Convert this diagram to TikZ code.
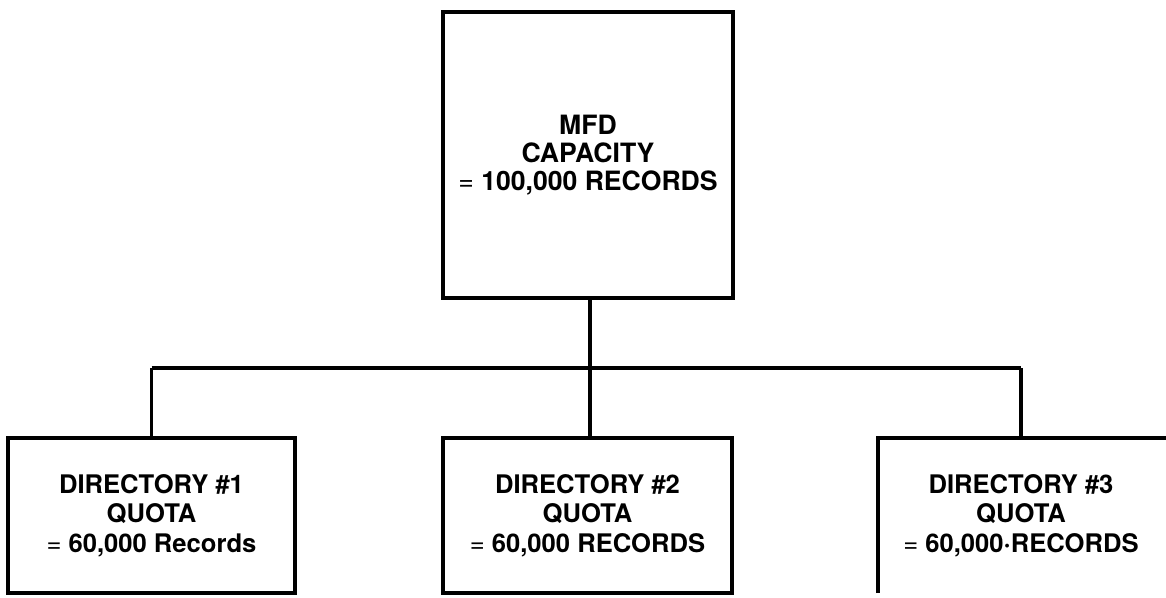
\documentclass[tikz,border=0pt]{standalone}
\usepackage{fontspec}
\setmainfont{TeX Gyre Heros}
\begin{document}
\begin{tikzpicture}[x=1pt,y=-1pt,
  boxtext/.style={align=center,inner sep=0pt,font=\fontsize{25.6}{29.5}\selectfont\bfseries},
  quotabox/.style={boxtext,draw,line width=3.5pt,minimum width=287pt,minimum height=155pt},
  openbox/.style={boxtext,minimum width=286pt,minimum height=155pt},
  capbox/.style={boxtext,draw,line width=3.5pt,minimum width=290pt,minimum height=286pt,
    font=\fontsize{26.6}{28}\selectfont\bfseries},
  link/.style={line width=3.2pt},
  busline/.style={line width=4.5pt}]
\clip (0,0) rectangle (1166,597);

% capacity of the whole disk
\node[capbox] (mfd) at (588,155) {MFD\\CAPACITY\\{\mdseries =} 100,000 RECORDS};

% the three directories
\node[quotabox] (d1) at (151.5,515.5) {DIRECTORY \#1\\QUOTA\\{\mdseries =} 60,000 Records};
\node[quotabox,minimum width=289pt] (d2) at (587.5,515.5) {DIRECTORY \#2\\QUOTA\\{\mdseries =} 60,000 RECORDS};
\node[openbox] (d3) at (1021,515.5) {DIRECTORY \#3\\QUOTA\\{\mdseries =} 60,000·RECORDS};
\draw[line width=3.5pt] (d3.south west) -- (d3.north west) -- ([xshift=12pt]d3.north east);

% tree connectors
\coordinate (bus) at (590,368);
\draw[link] (mfd.south -| bus) -- (d2.north -| bus);
\draw[busline] (d1.north |- bus) -- (d3.north |- bus);
\draw[link] (d1.north) -- (d1.north |- bus);
\draw[link] (d3.north) -- (d3.north |- bus);
\end{tikzpicture}
\end{document}
